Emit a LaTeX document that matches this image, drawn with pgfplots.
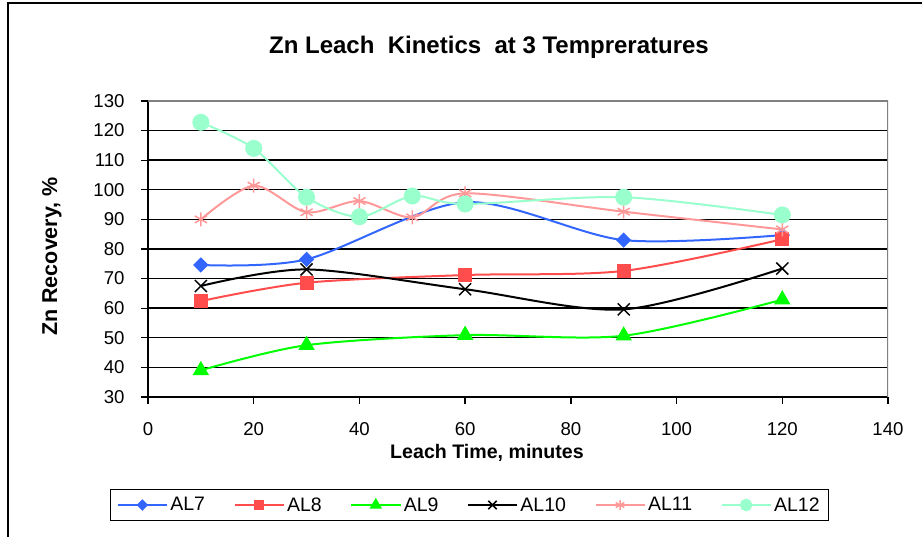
\documentclass[border=0pt]{standalone}
\usepackage{pgfplots}
\pgfplotsset{compat=1.18}
\usepackage{fontspec}
\setmainfont{Liberation Sans}
\usetikzlibrary{plotmarks}

\definecolor{cAL7}{HTML}{3366FF}
\definecolor{cAL8}{HTML}{FF4D4D}
\definecolor{cAL9}{HTML}{00FF00}
\definecolor{cAL10}{HTML}{000000}
\definecolor{cAL11}{HTML}{FF9999}
\definecolor{cAL12}{HTML}{99FFCC}
\definecolor{frame}{HTML}{808080}

\newcommand{\tickfont}{\fontsize{18.6}{20}\selectfont}
\newcommand{\legfont}{\fontsize{19.5}{21}\selectfont}

\begin{document}
\begin{tikzpicture}[x=1pt,y=1pt]
\clip (0,0) rectangle (922,537);
\path[use as bounding box] (0,0) rectangle (922,537);
% chart area frame
\draw[line width=1.5pt] (8,-10) -- (8,534) -- (940,534);

\begin{axis}[
  at={(148pt,140pt)}, anchor=south west,
  scale only axis, width=740pt, height=296pt,
  xmin=0, xmax=140, ymin=30, ymax=130,
  xtick={0,20,...,140}, ytick={30,40,...,130},
  axis x line*=bottom, axis y line*=left,
  axis line style={black, line width=1.6pt, -},
  tick align=outside, major tick length=7pt,
  tick style={black, line width=1.3pt},
  minor tick num=0,
  ymajorgrids, grid style={black, line width=1.4pt},
  ticklabel style={font=\tickfont},
  /pgf/number format/assume math mode=true,
  yticklabel style={anchor=east, xshift=-13pt},
  xticklabel style={anchor=north, yshift=-15pt},
  legend columns=6,
  legend style={at={(0.4345,-0.365)}, anchor=center, draw=black, line width=1.2pt,
    font=\legfont, inner xsep=6pt, inner ysep=6pt,
    nodes={inner xsep=2.5pt, inner ysep=2pt},
    /tikz/every even column/.append style={column sep=26pt}},
  legend image code/.code={%
    \begin{scope}[/tikz/every mark/.append style={scale=0.7}]
    \draw[#1, mark repeat=2, mark phase=2] plot coordinates {(0pt,0pt) (24.5pt,0pt) (49pt,0pt)};
    \end{scope}},
  every axis plot/.append style={line width=2pt, smooth},
]
\addplot[color=cAL7, mark=square*, mark size=4.4pt, mark options={rotate=45, solid}]
  coordinates {(10,74.6) (30,76.5) (60,95.8) (90,83.0) (120,84.7)};
\addlegendentry{AL7}
\addplot[color=cAL8, mark=square*, mark size=6pt, mark options={solid}]
  coordinates {(10,62.4) (30,68.6) (60,71.2) (90,72.6) (120,83.3)};
\addlegendentry{AL8}
\addplot[color=cAL9, mark=triangle*, mark size=7.5pt, mark options={solid}]
  coordinates {(10,39.0) (30,47.5) (60,50.9) (90,50.7) (120,62.9)};
\addlegendentry{AL9}
\addplot[color=cAL10, mark=x, mark size=8.5pt, mark options={solid, line width=1.5pt}]
  coordinates {(10,67.5) (30,73.1) (60,66.4) (90,59.6) (120,73.4)};
\addlegendentry{AL10}
\addplot[color=cAL11, mark=asterisk, mark size=7pt, mark options={solid, line width=1.5pt}]
  coordinates {(10,90.0) (20,101.4) (30,92.4) (40,96.2) (50,90.7) (60,98.8) (90,92.6) (120,86.6)};
\addlegendentry{AL11}
\addplot[color=cAL12, mark=*, mark size=7.5pt, mark options={solid}]
  coordinates {(10,122.8) (20,114.0) (30,97.5) (40,90.9) (50,97.9) (60,95.2) (90,97.5) (120,91.5)};
\addlegendentry{AL12}
% grey border on the top and right of the plot area
\draw[frame, line width=1.5pt] (rel axis cs:0,1) -- (rel axis cs:1,1) -- (rel axis cs:1,0);
\end{axis}

\node[font=\fontsize{24}{26}\selectfont\bfseries] at (489,489.5)
  {Zn Leach\ \ Kinetics\ \ at 3 Tempreratures};
\node[font=\fontsize{19.6}{21}\selectfont\bfseries] at (487,84) {Leach Time, minutes};
\node[font=\fontsize{21.5}{23}\selectfont\bfseries, rotate=90] at (52,280.5) {Zn Recovery, \%};
\end{tikzpicture}
\end{document}
